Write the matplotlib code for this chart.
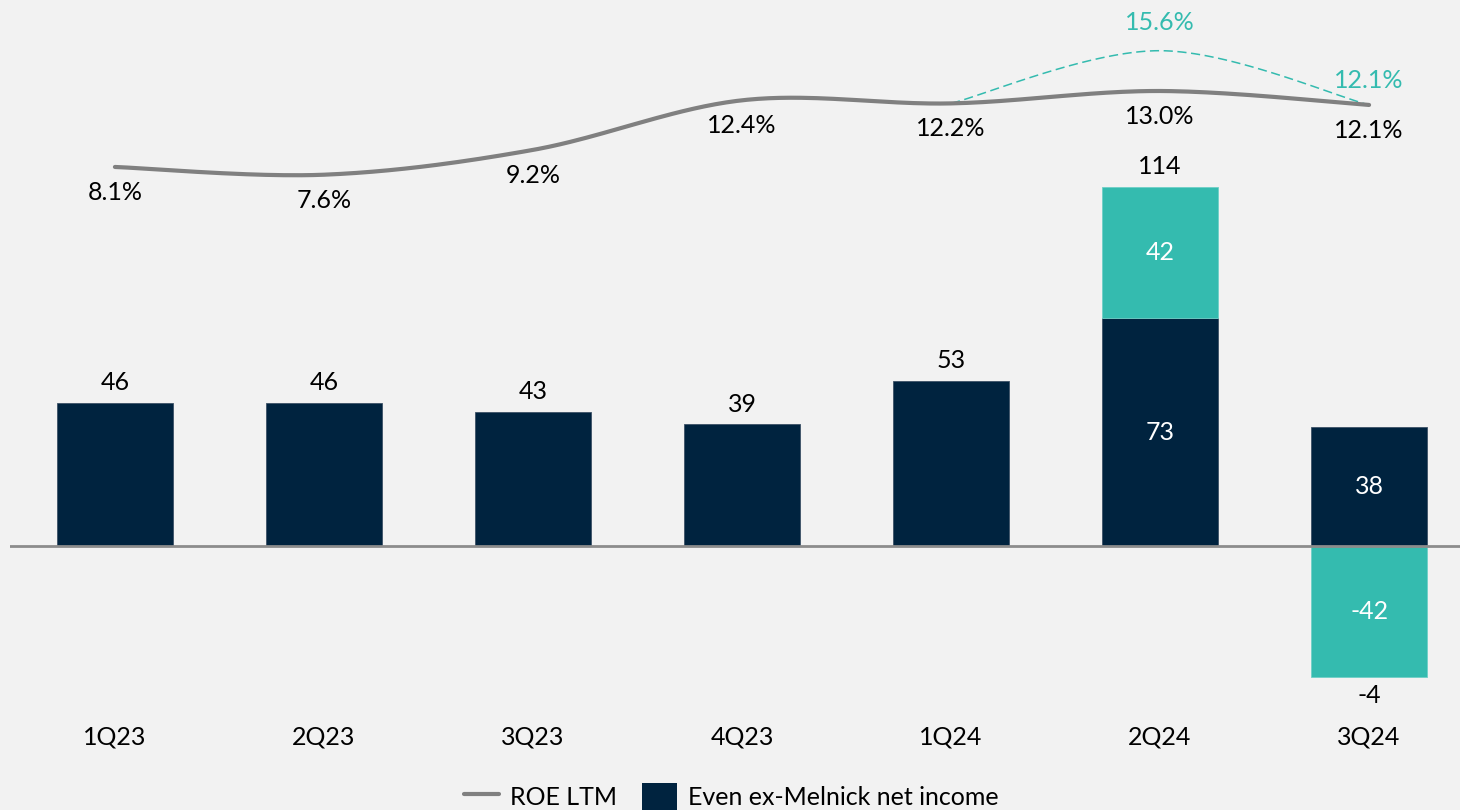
import numpy as np
import matplotlib.pyplot as plt
from matplotlib.lines import Line2D
from matplotlib.patches import Patch

plt.rcParams['font.family'] = ['Lato', 'DejaVu Sans']

quarters = ['1Q23', '2Q23', '3Q23', '4Q23', '1Q24', '2Q24', '3Q24']
net_income = [46, 46, 43, 39, 53, 73, 38]
melnick = [0, 0, 0, 0, 0, 42, -42]
totals = [None, None, None, None, None, 114, -4]
roe_ltm = [8.1, 7.6, 9.2, 12.4, 12.2, 13.0, 12.1]
roe_incl = [12.2, 15.6, 12.1]      # 1Q24..3Q24 including Melnick
incl_idx = [4, 5, 6]

NAVY = '#00233f'
TEAL = '#34bbaf'
GREY = '#808080'
BG = '#f2f2f2'


def smooth(xs, ys, n=40):
    # Catmull-Rom style bezier smoothing (like spreadsheet "smoothed line")
    xs = np.asarray(xs, float)
    ys = np.asarray(ys, float)
    pts = np.column_stack([xs, ys])
    out = []
    for i in range(len(pts) - 1):
        p0 = pts[i - 1] if i > 0 else pts[i]
        p1, p2 = pts[i], pts[i + 1]
        p3 = pts[i + 2] if i + 2 < len(pts) else pts[i + 1]
        c1 = p1 + (p2 - p0) / 6
        c2 = p2 - (p3 - p1) / 6
        t = np.linspace(0, 1, n)[:, None]
        seg = ((1 - t) ** 3) * p1 + 3 * ((1 - t) ** 2) * t * c1 + 3 * (1 - t) * t ** 2 * c2 + t ** 3 * p2
        out.append(seg if i == 0 else seg[1:])
    out = np.vstack(out)
    return out[:, 0], out[:, 1]


fig = plt.figure(figsize=(14.6, 8.1), dpi=100, facecolor=BG)
ax = fig.add_axes([10 / 1460, 0, 1450 / 1460, 1])
ax.set_facecolor(BG)
x = np.arange(len(quarters))
w = 0.555

ax.bar(x, net_income, width=w, color=NAVY, edgecolor='#3d5166', linewidth=0.6, zorder=2)
mel = np.array(melnick, float)
mel_bottom = np.where(mel > 0, net_income, 0)
mask = mel != 0
ax.bar(x[mask], mel[mask], bottom=mel_bottom[mask], width=w, color=TEAL,
       edgecolor='#6fd0c7', linewidth=0.6, zorder=2)
ax.axhline(0, color='#8c8c8c', lw=2, zorder=3)

ax.set_xlim(-0.502, 6.435)
ax.set_ylim(-84.6, 175)

fs = 18
for i, v in enumerate(net_income):
    if mel[i] == 0:
        ax.text(i, v + 6.4, str(v), ha='center', va='center', fontsize=fs, color='black')
    else:
        ax.text(i, v / 2, str(v), ha='center', va='center', fontsize=fs, color='white', zorder=4)
        ax.text(i, mel_bottom[i] + mel[i] / 2, str(int(mel[i])), ha='center', va='center',
                fontsize=fs, color='white', zorder=4)
for i, t in enumerate(totals):
    if t is None:
        continue
    top = max(net_income[i], net_income[i] + mel[i])
    if t > 0:
        ax.text(i, top + 6.7, str(t), ha='center', va='center', fontsize=fs, color='black')
    else:
        ax.text(i, mel[i] - 6.0, str(t), ha='center', va='center', fontsize=fs, color='black')

for i, q in enumerate(quarters):
    ax.text(i, -61.2, q, ha='center', va='center', fontsize=fs, color='black')

for s in ax.spines.values():
    s.set_visible(False)
ax.set_xticks([])
ax.set_yticks([])

# ROE on a secondary scale
ax2 = ax.twinx()
ax2.set_ylim(-33.38, 18.87)
ax2.set_yticks([])
for s in ax2.spines.values():
    s.set_visible(False)

sx, sy = smooth(x, roe_ltm)
ax2.plot(sx, sy, color=GREY, lw=3.0, solid_capstyle='round', zorder=5)
ix, iy = smooth(incl_idx, roe_incl)
ax2.plot(ix, iy, color=TEAL, lw=1.1, ls=(0, (6, 3)), zorder=4)

for i, v in enumerate(roe_ltm):
    ax2.text(i, v - 1.65, f'{v:.1f}%', ha='center', va='center', fontsize=fs, color='black')
ax2.text(5, roe_incl[1] + 1.85, f'{roe_incl[1]:.1f}%', ha='center', va='center', fontsize=fs, color=TEAL)
ax2.text(6, roe_incl[2] + 1.6, f'{roe_incl[2]:.1f}%', ha='center', va='center', fontsize=fs, color=TEAL)

handles = [Line2D([], [], color=GREY, lw=3.0, solid_capstyle='round'),
           Patch(facecolor=NAVY)]
fig.legend(handles, ['ROE LTM', 'Even ex-Melnick net income'], loc='center',
           bbox_to_anchor=(0.501, 0.016), ncol=2, frameon=False, fontsize=fs,
           handlelength=1.4, handleheight=1.4, columnspacing=1.0, handletextpad=0.45)

fig.savefig('out.png', dpi=100, facecolor=BG)
